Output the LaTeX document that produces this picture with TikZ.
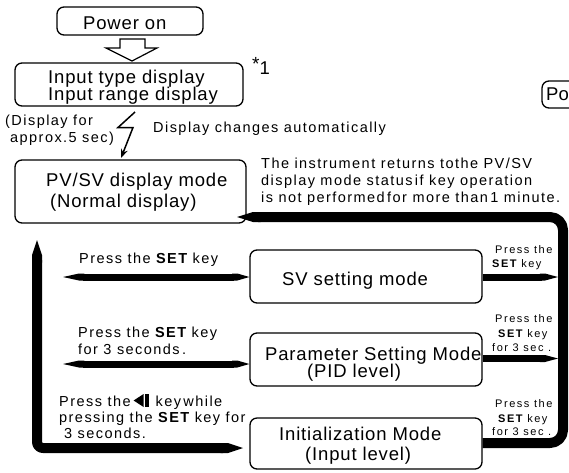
\documentclass[tikz,border=0pt]{standalone}
\usepackage{fontspec}
\setmainfont{Liberation Sans}
\newfontfamily\boxfont{Liberation Sans}[LetterSpace=4.5]
\newfontfamily\midfont{Liberation Sans}[LetterSpace=10]
\newfontfamily\smallfont{Liberation Sans}[LetterSpace=14]
\usetikzlibrary{arrows.meta}
% left-arrow key symbol used inside the key-combination label
\newcommand\leftkeyicon{\tikz[x=1pt,y=1pt,baseline=1pt]{\fill (0,6.5) -- (10,13) -- (10,0) -- cycle; \fill (11.5,0) rectangle (15,13);}}
\tikzset{
  modebox/.style={draw, line width=1.3pt, rounded corners=7pt, inner sep=0pt, fill=white},
  boxtxt/.style={anchor=base west, inner sep=0pt, font=\boxfont\fontsize{18.5}{18.5}\selectfont},
  midtxt/.style={anchor=base west, inner sep=0pt, font=\midfont\fontsize{14.5}{14.5}\selectfont},
  smalltxt/.style={anchor=base west, inner sep=0pt, font=\smallfont\fontsize{11}{11}\selectfont},
  brush/.style={line width=7pt, line join=round},
  bigbrush/.style={line width=10pt, line join=round, rounded corners=13pt},
}
\begin{document}
\begin{tikzpicture}[x=1pt,y=-1pt]
\useasboundingbox (0,0) rectangle (569,472);
\clip (0,0) rectangle (569,472);
\fill[white] (0,0) rectangle (569,472);

% mode boxes
\node[modebox, minimum width=146pt, minimum height=28pt] (power) at (130,21) {};
\node[modebox, minimum width=228pt, minimum height=43pt] (input) at (129,84.5) {};
\node[modebox, minimum width=231pt, minimum height=63pt] (pv) at (130.5,191.5) {};
\node[modebox, minimum width=232pt, minimum height=53pt] (sv) at (366,276.5) {};
\node[modebox, minimum width=232pt, minimum height=53pt] (param) at (366,359.5) {};
\node[modebox, minimum width=232pt, minimum height=51pt] (init) at (366,443.5) {};
\node[modebox, minimum width=78pt, minimum height=27pt] (power2) at (581,94.5) {};

% box texts
\node[boxtxt] (power-t) at (83,29) {Power on};
\node[boxtxt] (input-t1) at (48,83) {Input type display};
\node[boxtxt] (input-t2) at (48,100) {Input range display};
\node[boxtxt] (note-mark) at (252,74) {\raisebox{4pt}{\fontsize{19}{19}\selectfont *}1};
\node[boxtxt] (pv-t1) at (46,186) {PV/SV display mode};
\node[boxtxt] (pv-t2) at (50,207) {(Normal display)};
\node[boxtxt] (sv-t) at (282,285) {SV setting mode};
\node[boxtxt] (param-t1) at (265,360) {Parameter Setting Mode};
\node[boxtxt] (param-t2) at (307,377) {(PID level)};
\node[boxtxt] (init-t1) at (279,440) {Initialization Mode};
\node[boxtxt] (init-t2) at (305,460) {(Input level)};
\node[anchor=base west, inner sep=0pt, font=\fontsize{18.5}{18.5}\selectfont] (power2-t) at (546,100) {Po};

% start-up notes
\node[midtxt] (disp-t1) at (5,125) {(Display for};
\node[midtxt] (disp-t2) at (10,142) {approx.5 sec)};
\node[midtxt] (auto-t) at (153,132) {Display changes automatically};
\node[midtxt] (ret-t1) at (261,168) {The instrument returns tothe PV/SV};
\node[midtxt] (ret-t2) at (261,185) {display mode status\,if key operation};
\node[midtxt] (ret-t3) at (261,202) {is not performed\,for more than\,1 minute.};

% key operations, left side
\node[midtxt] (l1) at (79,263) {Press the {\bfseries SET} key};
\node[midtxt] (l2a) at (78,337) {Press the {\bfseries SET} key};
\node[midtxt] (l2b) at (78,354) {for 3 seconds\,.};
\node[midtxt] (l3a) at (59,406) {Press the\hspace{3pt}\leftkeyicon\hspace{7pt}key\,while};
\node[midtxt] (l3b) at (59,422) {pressing the {\bfseries SET} key for};
\node[midtxt] (l3c) at (64,438) {3 seconds.};

% key operations, right side
\node[smalltxt] (r1a) at (495,253) {Press the};
\node[smalltxt] (r1b) at (492,267) {{\bfseries SET} key};
\node[smalltxt] (r2a) at (495,322) {Press the};
\node[smalltxt] (r2b) at (498,337) {{\bfseries SET} key};
\node[smalltxt] (r2c) at (492,351) {for 3 sec .};
\node[smalltxt] (r3a) at (495,407) {Press the};
\node[smalltxt] (r3b) at (498,422) {{\bfseries SET} key};
\node[smalltxt] (r3c) at (492,435) {for 3 sec .};

% hollow arrow from power on to the input display
\draw[line width=1.2pt, fill=white, line join=miter]
  (120,39) -- (145,39) -- (145,48) -- (157,48) -- (132,61) -- (106,48) -- (120,48) -- cycle;

% automatic change: zig-zag arrow
\coordinate (zz1) at (135,112);
\coordinate (zz2) at (118,127.5);
\coordinate (zz3) at (133,127.5);
\coordinate (zzend) at (121,158);
\draw[line width=1.5pt, -{Stealth[length=9pt,width=7pt]}] (zz1) -- (zz2) -- (zz3) -- (zzend);

% brush-stroke connectors, right side
\coordinate (rtop) at (563,217);
\coordinate (rbot) at (563,443);
\coordinate (rettip) at (237,217);
\draw[bigbrush, -{Triangle Cap[length=16pt]}] (init.east |- rbot) -- (rbot) -- (rtop) -- (rettip);
\coordinate (svR) at (558,277);
\coordinate (paramR) at (558,358.5);
\draw[brush, -{Triangle Cap[length=13pt]}] (sv.east |- svR) -- (svR);
\draw[brush, -{Triangle Cap[length=13pt]}] (param.east |- paramR) -- (paramR);

% brush-stroke connectors, left side
\coordinate (ltop) at (37,240);
\coordinate (lbot) at (37,448);
\coordinate (ltip) at (243,448);
\draw[bigbrush, rounded corners=6pt, {Triangle Cap[length=15pt]}-{Triangle Cap[length=15pt]}] (ltop) -- (lbot) -- (ltip);
\coordinate (svL) at (63,277);
\coordinate (paramL) at (63,364);
\draw[brush, {Triangle Cap[length=16pt]}-{Triangle Cap[length=12pt]}] (svL) -- (sv.west |- svL);
\draw[brush, {Triangle Cap[length=16pt]}-{Triangle Cap[length=12pt]}] (paramL) -- (param.west |- paramL);
\end{tikzpicture}
\end{document}
